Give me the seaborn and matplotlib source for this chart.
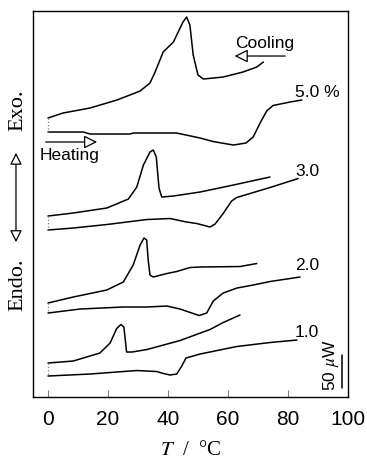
import pandas as pd
import numpy as np
import matplotlib.pyplot as plt
import seaborn as sns

# DSC traces (T in degC, signal in arbitrary units, 33 units = 50 uW)
t_cool_50 = [0, 5, 14, 23, 30.7, 34, 35.7, 38.4, 41.8, 43.4, 45, 46.2, 47.3, 48.4, 50, 51.8, 58.4, 65, 69.6, 71.8]
s_cool_50 = [279, 284, 289, 297, 306, 314, 325, 345, 355, 365, 375, 380, 372, 342, 322, 318, 320, 325, 330, 335]
t_heat_50 = [0, 11.8, 14, 27.3, 28.5, 42.9, 50.7, 55, 61.8, 66, 68.4, 70.7, 72.9, 75, 80.7, 84.6]
s_heat_50 = [265, 265, 263, 263, 264, 264, 259, 255.5, 252, 254, 260, 274, 286, 291.5, 295, 297]

t_cool_30 = [0, 8.4, 19.6, 26.8, 29.6, 31.8, 34, 35.1, 36.1, 37, 37.9, 41.8, 50.7, 61.8, 74]
s_cool_30 = [181, 184, 189, 198, 210, 232, 245, 247, 240, 209, 200, 201, 205, 212, 220]
t_heat_30 = [0, 8.4, 19.6, 33, 40.7, 46.2, 49.6, 54, 55.7, 58.4, 61.2, 62.9, 64, 74, 83.4]
s_heat_30 = [167, 169, 172.5, 177.5, 178.5, 175, 173.5, 170, 173, 183.5, 196, 199.5, 200.5, 209.5, 218.5]

t_cool_20 = [0, 8.4, 19.6, 25.1, 28.4, 30.7, 32, 32.9, 33.4, 34, 35.1, 39.6, 42.9, 47.3, 50.7, 64, 69.6]
s_cool_20 = [94, 100, 107, 115, 132, 152, 159, 157, 137, 122, 120, 123.5, 125.5, 129.5, 130, 130.5, 133.5]
t_heat_20 = [0, 10.7, 25, 32.9, 39.6, 44, 50.4, 52.9, 55.1, 58.4, 63, 68.4, 74, 84]
s_heat_20 = [84, 88, 90, 90, 91, 88, 81.5, 84, 96, 104, 109, 112, 115.5, 120]

t_cool_10 = [0, 8.4, 17.3, 20.7, 22.9, 24.3, 25.3, 26.2, 28, 33, 44, 54, 58.4, 64]
s_cool_10 = [34, 36, 44, 54, 68.5, 72.5, 70, 45, 45, 47.5, 56.5, 67.5, 74.5, 82]
t_heat_10 = [0, 14, 29.6, 36.2, 38.5, 40.7, 42.9, 44.5, 46, 50.7, 62.9, 74, 83]
s_heat_10 = [21, 23, 26.5, 25.5, 23.5, 22, 23, 30.5, 39, 43, 50.5, 54.5, 57]

labels = ['5.0 %', '3.0', '2.0', '1.0']
label_y = [305, 226, 132, 65]
x_ticks = [0, 20, 40, 60, 80, 100]

curves = {
    'cool_50': (t_cool_50, s_cool_50), 'heat_50': (t_heat_50, s_heat_50),
    'cool_30': (t_cool_30, s_cool_30), 'heat_30': (t_heat_30, s_heat_30),
    'cool_20': (t_cool_20, s_cool_20), 'heat_20': (t_heat_20, s_heat_20),
    'cool_10': (t_cool_10, s_cool_10), 'heat_10': (t_heat_10, s_heat_10),
}
df = pd.concat([pd.DataFrame({'T': t, 'signal': s, 'curve': name})
                for name, (t, s) in curves.items()], ignore_index=True)

sns.set_style('white')
plt.rcParams['font.family'] = ['Liberation Sans', 'DejaVu Sans']
plt.rcParams['text.color'] = 'black'
plt.rcParams['xtick.labelcolor'] = 'black'
plt.rcParams['axes.labelcolor'] = 'black'
plt.rcParams['mathtext.fontset'] = 'stix'

fig = plt.figure(figsize=(3.67, 4.63), dpi=100)
ax = fig.add_axes([0.0899, 0.1425, 0.8583, 0.8337])

sns.lineplot(data=df, x='T', y='signal', units='curve', estimator=None, sort=False,
             color='black', lw=1.1, ax=ax)

# dotted connectors at T = 0
for c, h in [(s_cool_50, s_heat_50), (s_cool_30, s_heat_30), (s_cool_20, s_heat_20), (s_cool_10, s_heat_10)]:
    ax.plot([0, 0], [c[0], h[0]], color='gray', ls=':', lw=0.9)

for lab, y in zip(labels, label_y):
    ax.text(82.3, y, lab, fontsize=12.5, va='center', ha='left')

# cooling / heating arrows
ax.text(62.3, 354, 'Cooling', fontsize=12.5, va='center', ha='left')
ax.annotate('', xy=(61.3, 341), xytext=(80, 341),
            arrowprops=dict(arrowstyle='-|>', fc='white', ec='black', lw=0.9, mutation_scale=20))
ax.text(-2.8, 241.5, 'Heating', fontsize=12.5, va='center', ha='left')
ax.annotate('', xy=(17.3, 255), xytext=(-1.7, 255),
            arrowprops=dict(arrowstyle='-|>', fc='white', ec='black', lw=0.9, mutation_scale=20))

# scale bar
ax.plot([98, 98], [9, 42], color='black', lw=1.1)
ax.text(94.3, 32, '50 $\\mu$W', fontsize=12.5, rotation=90, va='center', ha='center')

# Exo / Endo
ax.text(-0.049, 0.744, 'Exo.', transform=ax.transAxes, rotation=90, va='center', ha='center',
        fontsize=16, family='Liberation Serif')
ax.text(-0.049, 0.29, 'Endo.', transform=ax.transAxes, rotation=90, va='center', ha='center',
        fontsize=16, family='Liberation Serif')
ax.annotate('', xy=(-0.054, 0.64), xytext=(-0.054, 0.394), xycoords='axes fraction',
            textcoords='axes fraction', annotation_clip=False,
            arrowprops=dict(arrowstyle='<|-|>', fc='white', ec='black', lw=0.9, mutation_scale=18))

ax.set_xlim(-5, 100)
ax.set_ylim(0, 386)
ax.set_xticks(x_ticks)
ax.set_yticks([])
ax.tick_params(axis='x', direction='in', length=5, color='gray', labelsize=15, pad=9, bottom=True)
for sp in ax.spines.values():
    sp.set_color('black')
    sp.set_linewidth(1.0)
ax.set_ylabel('')
ax.set_xlabel('$T$  /  \u00b0C', fontsize=15, family='Liberation Serif', labelpad=9)

fig.savefig('out.png', dpi=100)
